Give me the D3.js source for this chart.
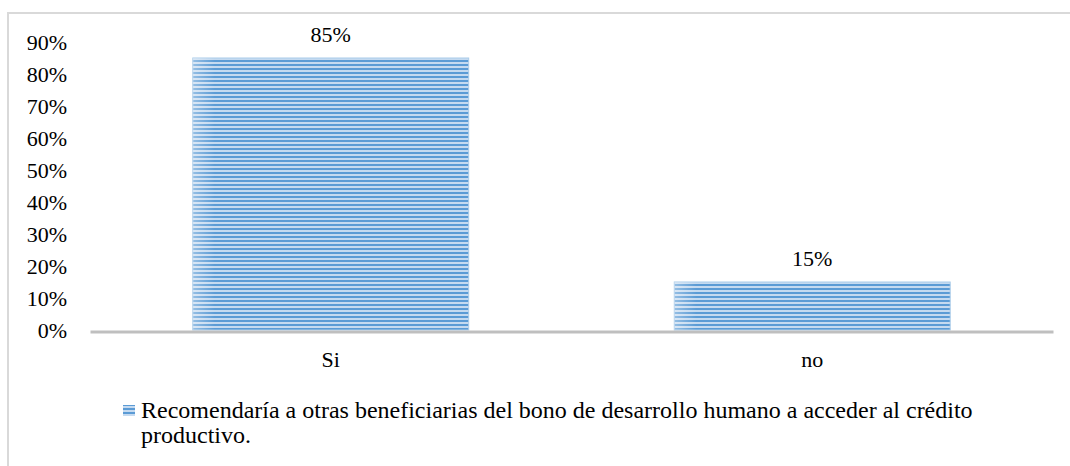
<!DOCTYPE html>
<html>
<head>
<meta charset="utf-8">
<script src="https://cdn.jsdelivr.net/npm/d3@7"></script>
<style>
  body { margin: 0; background: #fff; }
  svg text { font-family: "Liberation Serif", "Times New Roman", serif; fill: #000; }
</style>
</head>
<body>
<div class="chart-container"></div>
<script>
// Values
const categories = ["Si", "no"]
const values = [0.85, 0.15]
const valueLabels = ["85%", "15%"]
const yTicks = [0, 0.1, 0.2, 0.3, 0.4, 0.5, 0.6, 0.7, 0.8, 0.9]
const legendLines = [
  "Recomendaría a otras beneficiarias del bono de desarrollo humano a acceder al crédito",
  "productivo."
]

const width = 1070, height = 466
const margin = {top: 42, right: 17, bottom: 136, left: 90}

const svg = d3.select(".chart-container").append("svg")
  .attr("width", width)
  .attr("height", height)

// striped fill like the original
const defs = svg.append("defs")
const pat = defs.append("pattern")
  .attr("id", "stripes")
  .attr("patternUnits", "userSpaceOnUse")
  .attr("width", 8)
  .attr("height", 4)
pat.append("rect").attr("width", 8).attr("height", 4).attr("fill", "#c5daf0")
pat.append("rect").attr("width", 8).attr("height", 2).attr("fill", "#5b9bd5")

// soft light edge on the left of each bar
const grad = defs.append("linearGradient")
  .attr("id", "edge")
  .attr("x1", 0).attr("x2", 1).attr("y1", 0).attr("y2", 0)
grad.append("stop").attr("offset", 0).attr("stop-color", "#fff").attr("stop-opacity", 0.35)
grad.append("stop").attr("offset", 0.08).attr("stop-color", "#fff").attr("stop-opacity", 0)
grad.append("stop").attr("offset", 1).attr("stop-color", "#fff").attr("stop-opacity", 0)

//outer frame
svg.append("rect")
  .attr("x", 8)
  .attr("y", 13)
  .attr("width", width)
  .attr("height", height)
  .attr("fill", "none")
  .attr("stroke", "#d9d9d9")
  .attr("stroke-width", 2)

const x = d3.scaleBand()
  .domain(categories)
  .range([margin.left, width - margin.right])
  .paddingInner(0.427)
  .paddingOuter(0.2135)

const y = d3.scaleLinear()
  .domain([0, 0.9])
  .range([330, margin.top])

// y axis labels
const yAxis = g => g
  .attr("transform", `translate(${67},0)`)
  .call(d3.axisLeft(y).tickValues(yTicks).tickFormat(d3.format(".0%")).tickSize(0).tickPadding(0))
  .call(g => g.select(".domain").remove())
  .call(g => g.selectAll("text").attr("font-size", 22))

svg.append("g").call(yAxis)

// bars
const bars = svg.append("g")
bars.selectAll("rect.bar")
  .data(values)
  .join("rect")
  .attr("class", "bar")
  .attr("x", (d, i) => x(categories[i]))
  .attr("y", d => y(d))
  .attr("width", x.bandwidth())
  .attr("height", d => y(0) - y(d))
  .attr("fill", "url(#stripes)")
  .attr("stroke", "#a9cbe9")
  .attr("stroke-width", 1)
bars.selectAll("rect.edge")
  .data(values)
  .join("rect")
  .attr("class", "edge")
  .attr("x", (d, i) => x(categories[i]))
  .attr("y", d => y(d))
  .attr("width", x.bandwidth())
  .attr("height", d => y(0) - y(d))
  .attr("fill", "url(#edge)")

// value labels
svg.append("g").selectAll("text")
  .data(values)
  .join("text")
  .attr("x", (d, i) => x(categories[i]) + x.bandwidth() / 2)
  .attr("y", d => y(d) - 16)
  .attr("text-anchor", "middle")
  .attr("font-size", 22)
  .text((d, i) => valueLabels[i])

// x axis
const xAxis = g => g
  .attr("transform", `translate(0,${y(0) + 1.5})`)
  .call(d3.axisBottom(x).tickSize(0).tickPadding(20))
  .call(g => g.select(".domain").attr("stroke", "#bfbfbf").attr("stroke-width", 3))
  .call(g => g.selectAll("text").attr("font-size", 22))

svg.append("g").call(xAxis)

// legend
const legend = svg.append("g")
legend.append("rect")
  .attr("x", 123)
  .attr("y", 405)
  .attr("width", 12)
  .attr("height", 11)
  .attr("fill", "url(#stripes)")
legend.selectAll("text")
  .data(legendLines)
  .join("text")
  .attr("x", 141)
  .attr("y", (d, i) => 418 + i * 25)
  .attr("font-size", 24)
  .text(d => d)
</script>
</body>
</html>
